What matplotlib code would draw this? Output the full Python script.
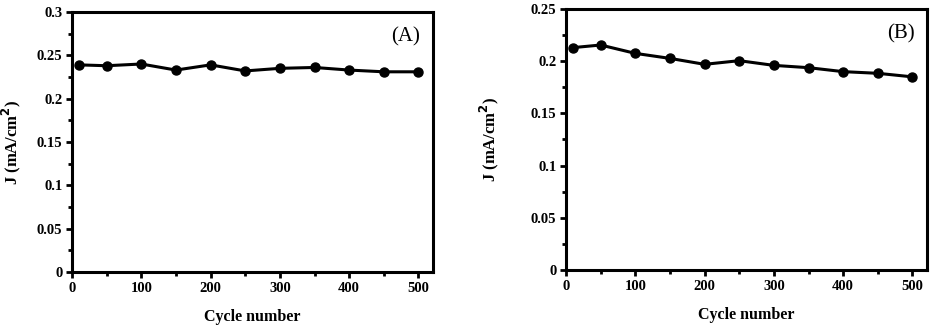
import numpy as np
import matplotlib
matplotlib.use('Agg')
import matplotlib.pyplot as plt
from matplotlib.ticker import MultipleLocator, FormatStrFormatter

# cycle numbers and current density
cycles = [10, 50, 100, 150, 200, 250, 300, 350, 400, 450, 500]
j_a = [0.239, 0.238, 0.240, 0.233, 0.239, 0.232, 0.235, 0.236, 0.233, 0.231, 0.231]
j_b = [0.213, 0.2155, 0.2075, 0.2027, 0.197, 0.2005, 0.196, 0.1938, 0.190, 0.1884, 0.185]

plt.rcParams['font.family'] = ['Liberation Serif', 'DejaVu Serif']
plt.rcParams['font.weight'] = 'bold'

fig = plt.figure(figsize=(9.31, 3.26), dpi=100)
W, H = 931.0, 326.0
ax1 = fig.add_axes([72 / W, 1 - 272 / H, (433 - 72) / W, (272 - 12) / H])
ax2 = fig.add_axes([566 / W, 1 - 270 / H, (927 - 566) / W, (270 - 9) / H])


def style(ax, y, ymax, tag):
    ax.plot(cycles, y, color='black', lw=2.2, marker='o', ms=6.5, zorder=3)
    ax.set_xlim(0, 521)
    ax.set_ylim(0, ymax)
    ax.xaxis.set_major_locator(MultipleLocator(100))
    ax.xaxis.set_minor_locator(MultipleLocator(50))
    ax.yaxis.set_major_locator(MultipleLocator(0.05))
    ax.yaxis.set_minor_locator(MultipleLocator(0.025))
    ax.yaxis.set_major_formatter(FormatStrFormatter('%g'))
    ax.tick_params(which='both', direction='out', width=2, labelsize=10.5, pad=3)
    ax.tick_params(which='major', length=4)
    ax.tick_params(which='minor', length=3)
    for s in ax.spines.values():
        s.set_linewidth(2.2)
    ax.set_xlabel('Cycle number', fontsize=11.5, fontweight='bold', labelpad=10)
    ax.set_ylabel('J (mA/cm$^\\mathbf{2}$)', fontsize=12, fontweight='bold')
    ax.text(0.965, 0.905, tag, transform=ax.transAxes, ha='right', va='center',
            fontsize=15, fontweight='normal')


style(ax1, j_a, 0.3, '(A)')
style(ax2, j_b, 0.25, '(B)')
ax1.yaxis.set_label_coords(-0.135, 0.5)
ax2.yaxis.set_label_coords(-0.18, 0.5)

fig.savefig('out.png', dpi=100)
